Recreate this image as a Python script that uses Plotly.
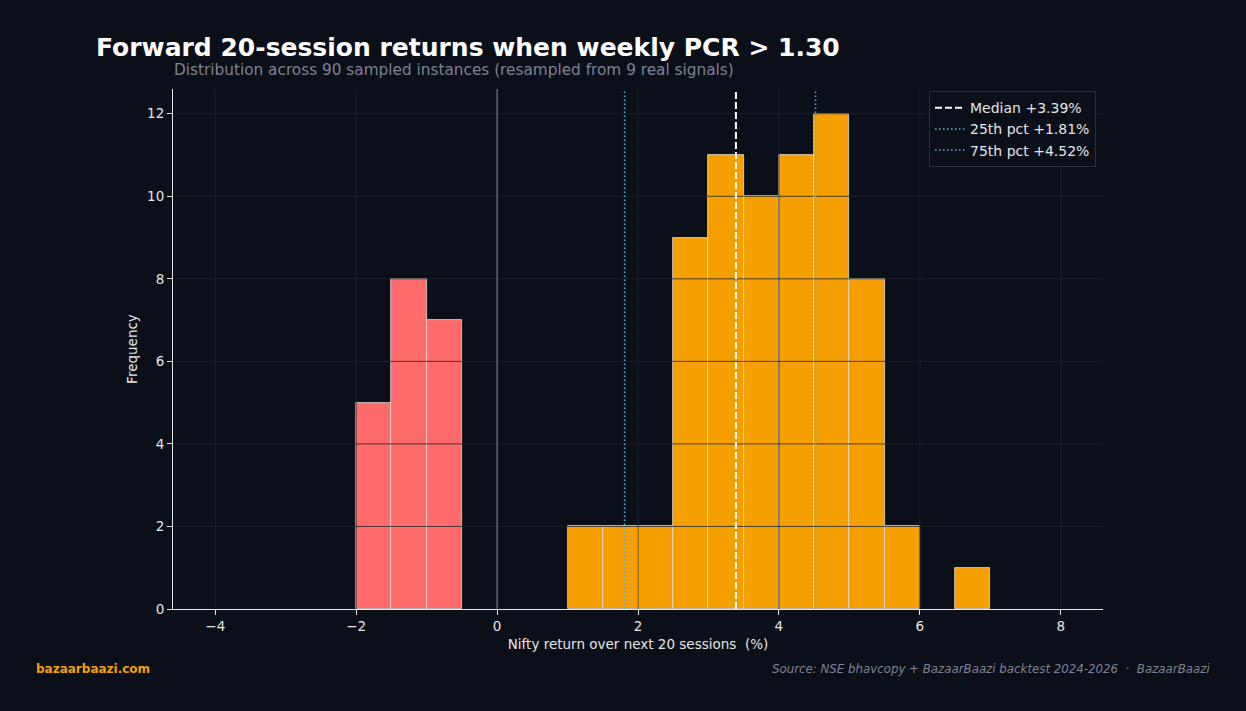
import plotly.graph_objects as go

# ---- data ----
bin_left = [-2.0, -1.5, -1.0, 1.0, 1.5, 2.0, 2.5, 3.0, 3.5, 4.0, 4.5, 5.0, 5.5, 6.5]
counts = [5, 8, 7, 2, 2, 2, 9, 11, 10, 11, 12, 8, 2, 1]
bin_width = 0.5
median_v = 3.39
p25_v = 1.81
p75_v = 4.52
x_ticks = [-4, -2, 0, 2, 4, 6, 8]
y_ticks = [0, 2, 4, 6, 8, 10, 12]

BG = "#0b0f1a"
RED = "#ff6b6b"
ORANGE = "#f5a000"
BLUE = "#4fb3e0"
GRID = "rgba(33,36,48,0.8)"
FONT = "DejaVu Sans"

centers = [b + bin_width / 2 for b in bin_left]
colors = [RED if b < 0 else ORANGE for b in bin_left]

fig = go.Figure()
fig.add_trace(go.Bar(
    x=centers, y=counts, width=bin_width,
    marker=dict(color=colors, line=dict(color="rgba(230,230,230,0.9)", width=0.8)),
    showlegend=False, hoverinfo="skip",
))

# grid lines drawn above bars
for yv in y_ticks[1:]:
    fig.add_shape(type="line", xref="paper", yref="y", x0=0, x1=1, y0=yv, y1=yv,
                  line=dict(color=GRID, width=1), layer="above")
for xv in x_ticks:
    if xv == 0:
        continue
    fig.add_shape(type="line", xref="x", yref="paper", x0=xv, x1=xv, y0=0, y1=1,
                  line=dict(color=GRID, width=1), layer="above")
# zero line
fig.add_shape(type="line", xref="x", yref="paper", x0=0, x1=0, y0=0, y1=1,
              line=dict(color="#8a8fa0", width=1), layer="above")

DASH = "7px,3px"
DOT = "1.5px,2.5px"
# reference lines
fig.add_shape(type="line", xref="x", yref="paper", x0=median_v, x1=median_v, y0=0, y1=1,
              line=dict(color="white", width=2, dash=DASH), layer="above")
fig.add_shape(type="line", xref="x", yref="paper", x0=p25_v, x1=p25_v, y0=0, y1=1,
              line=dict(color=BLUE, width=1.5, dash=DOT), layer="above")
fig.add_shape(type="line", xref="x", yref="paper", x0=p75_v, x1=p75_v, y0=0, y1=1,
              line=dict(color=BLUE, width=1.5, dash=DOT), layer="above")

# legend entries
fig.add_trace(go.Scatter(x=[None], y=[None], mode="lines", name=f"Median +{median_v:.2f}%",
                         line=dict(color="white", width=2, dash=DASH)))
fig.add_trace(go.Scatter(x=[None], y=[None], mode="lines", name=f"25th pct +{p25_v:.2f}%",
                         line=dict(color=BLUE, width=1.5, dash=DOT)))
fig.add_trace(go.Scatter(x=[None], y=[None], mode="lines", name=f"75th pct +{p75_v:.2f}%",
                         line=dict(color=BLUE, width=1.5, dash=DOT)))

fig.update_layout(
    width=1246, height=711,
    paper_bgcolor=BG, plot_bgcolor=BG,
    margin=dict(l=173, r=143, t=89, b=102),
    font=dict(family=FONT, color="#e6e6e6", size=13),
    bargap=0,
    legend=dict(x=0.9925, xanchor="right", y=0.996, yanchor="top",
                bgcolor=BG, bordercolor="#2a2f3d", borderwidth=1,
                font=dict(size=14, color="#e6e6e6"), tracegroupgap=0,
                itemwidth=30),
    xaxis=dict(range=[-4.6, 8.6], tickvals=x_ticks, showgrid=False, zeroline=False,
               showline=True, linecolor="#e6e6e6", linewidth=1,
               ticks="outside", ticklen=5, tickcolor="#e6e6e6",
               tickfont=dict(size=13.5, color="#e6e6e6"),
               title=dict(text="Nifty return over next 20 sessions  (%)",
                          font=dict(size=13.5, color="#e6e6e6"), standoff=6)),
    yaxis=dict(range=[0, 12.6], tickvals=y_ticks, showgrid=False, zeroline=False,
               showline=True, linecolor="#e6e6e6", linewidth=1,
               ticks="outside", ticklen=5, tickcolor="#e6e6e6",
               tickfont=dict(size=13.5, color="#e6e6e6"),
               title=dict(text="Frequency", font=dict(size=13.5, color="#e6e6e6"), standoff=6)),
)

fig.add_annotation(text="<b>Forward 20-session returns when weekly PCR &gt; 1.30</b>",
                   xref="paper", yref="paper", x=(94 - 173) / 930, y=(609 - 47) / 520,
                   xanchor="left", yanchor="middle", showarrow=False,
                   font=dict(size=25, color="white", family=FONT))
fig.add_annotation(text="Distribution across 90 sampled instances (resampled from 9 real signals)",
                   xref="paper", yref="paper", x=(172 - 173) / 930, y=(609 - 70) / 520,
                   xanchor="left", yanchor="middle", showarrow=False,
                   font=dict(size=15.3, color="#7d8294", family=FONT))
fig.add_annotation(text="<b>bazaarbaazi.com</b>",
                   xref="paper", yref="paper", x=(34 - 173) / 930, y=(609 - 669) / 520,
                   xanchor="left", yanchor="middle", showarrow=False,
                   font=dict(size=12, color=ORANGE, family=FONT))
fig.add_annotation(text="<i>Source: NSE bhavcopy + BazaarBaazi backtest 2024-2026  ·  BazaarBaazi</i>",
                   xref="paper", yref="paper", x=(1212 - 173) / 930, y=(609 - 669) / 520,
                   xanchor="right", yanchor="middle", showarrow=False,
                   font=dict(size=11.8, color="#7d8294", family=FONT))

fig.write_html("out.html")
